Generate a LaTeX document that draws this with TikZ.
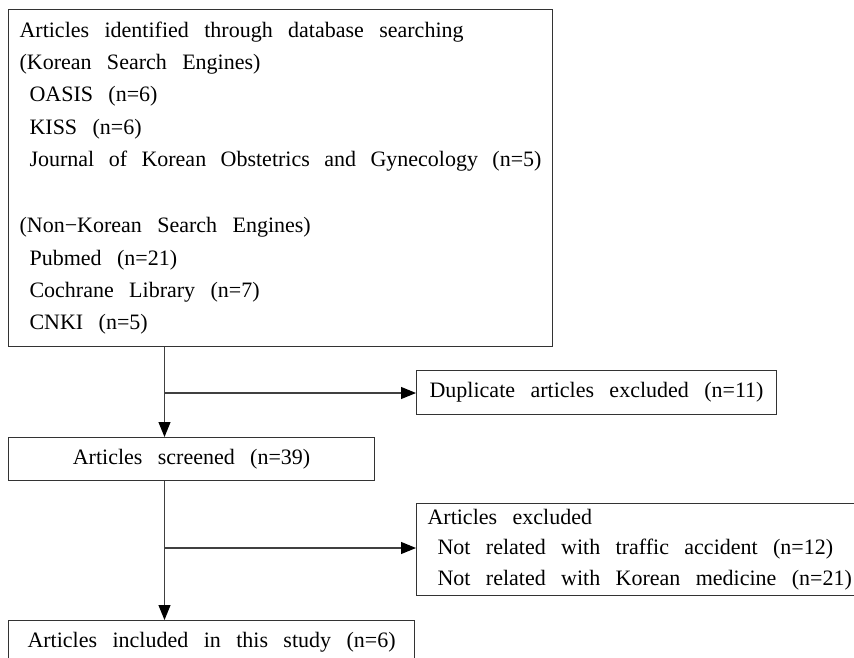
\documentclass[tikz,border=0pt]{standalone}
\usepackage{fontspec}
\setmainfont{Liberation Serif}[WordSpace=2.8]
\usetikzlibrary{arrows.meta}

\tikzset{
  box/.style={draw=black!80, line width=1.1pt, inner xsep=11pt, inner ysep=0pt,
    font=\fontsize{22}{32.4}\selectfont},
  flow/.style={->, line width=1.1pt, draw=black!75},
}
\newcommand{\srcitem}{\hspace*{10pt}}
\newcommand{\widespace}{\spaceskip=15.4pt plus 3pt minus 2pt\relax}

\begin{document}
\begin{tikzpicture}[x=1pt, y=-1pt, >={Triangle[length=15pt,width=12pt,color=black]}]

    % page frame
    \useasboundingbox (0,0) rectangle (854,658);
    \clip (0,0) rectangle (854,658);

    % 1. Search results
    \node[box, anchor=north west, minimum width=544pt, minimum height=337pt,
          text width=522pt, align=left] (search) at (8,9) {\widespace
        Articles identified through database searching\\
        (Korean Search Engines)\\
        \srcitem OASIS (n=6)\\
        \srcitem KISS (n=6)\\
        \srcitem Journal of Korean Obstetrics and Gynecology (n=5)\\[33.5pt]
        (Non−Korean Search Engines)\\
        \srcitem Pubmed (n=21)\\
        \srcitem Cochrane Library (n=7)\\
        \srcitem CNKI (n=5)};

    % 2. Screening and exclusions
    \node[box, anchor=north west, minimum width=360pt, minimum height=44pt]
        (dup) at (416,370) {Duplicate articles excluded (n=11)};
    \node[box, anchor=north west, minimum width=366pt, minimum height=43pt]
        (screened) at (8,437) {Articles screened (n=39)};
    \node[box, anchor=north west, minimum height=92pt, text width=440pt, align=left,
          font=\fontsize{22}{30.5}\selectfont] (excl) at (416,503) {\widespace
        Articles excluded\\
        \srcitem Not related with traffic accident (n=12)\\
        \srcitem Not related with Korean medicine (n=21)};

    % 3. Final set
    \node[box, anchor=north west, minimum width=406pt, minimum height=43pt]
        (included) at (8,620) {Articles included in this study (n=6)};

    % Connectors
    \coordinate (split1) at (164.5,393);
    \coordinate (split2) at (164.5,548);
    \draw[flow] (split1 |- search.south) -- (split1 |- screened.north);
    \draw[flow] (split1) -- (split1 -| dup.west);
    \draw[flow] (split2 |- screened.south) -- (split2 |- included.north);
    \draw[flow] (split2) -- (split2 -| excl.west);

\end{tikzpicture}
\end{document}
